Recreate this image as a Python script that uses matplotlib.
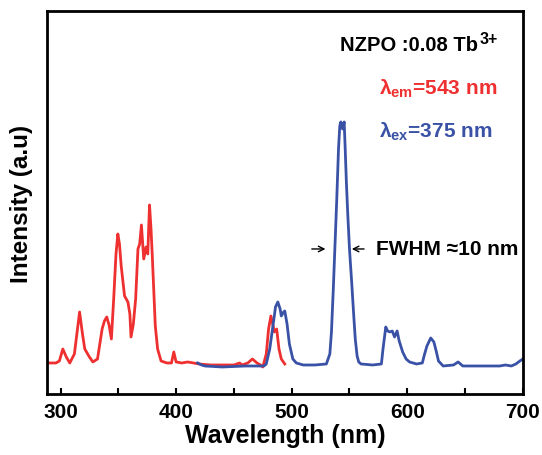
import matplotlib
matplotlib.use("Agg")
import matplotlib.pyplot as plt
from matplotlib.ticker import MultipleLocator

plt.rcParams["font.family"] = ["Liberation Sans", "DejaVu Sans"]
plt.rcParams["font.weight"] = "bold"
plt.rcParams["mathtext.fontset"] = "custom"
plt.rcParams["mathtext.rm"] = "Liberation Sans"
plt.rcParams["mathtext.bf"] = "Liberation Sans:bold"
plt.rcParams["mathtext.it"] = "Liberation Sans:italic"

# excitation spectrum (monitored at 543 nm)
exc_wl = [290.5, 296, 299, 302, 305, 308, 312, 316.5, 319, 321, 325, 328, 332, 334,
          336, 338, 340, 342, 344, 346, 348, 349.6, 351, 352.5, 355.4, 358.3, 360,
          361, 363, 365, 367, 368.5, 370, 372, 374, 375.5, 377, 378.3, 379.4, 381,
          382, 384, 387, 392, 396, 398, 400, 405, 410, 415, 420, 430, 440, 450, 455,
          457, 462, 466, 470, 473, 475, 478, 480, 482, 484, 485, 487, 489, 491, 494]
exc_int = [31, 31, 33, 45, 37, 31, 40, 82, 60, 45, 37, 32, 35, 50,
           65, 73, 77, 69, 55, 95, 140, 160, 150, 128, 98, 92, 80,
           57, 70, 95, 145, 150, 169, 135, 147, 140, 189, 165, 138, 95,
           68, 45, 33, 31, 31, 42, 32, 31, 32, 31, 30, 29, 29, 29, 31,
           29, 31, 35, 31, 29, 27, 40, 65, 78, 68, 62, 65, 45, 35, 30]

# emission spectrum (excited at 375 nm)
em_wl = [418.6, 422, 425, 440, 460, 476, 478, 481, 484, 486, 488, 490, 491, 493, 494,
         496, 498, 501, 504, 510, 520, 530, 533, 534.4, 536, 537.5, 539, 540.5,
         541.6, 542.5, 544, 545.4, 546.3, 547.3, 548.5, 550, 552, 553.7, 555, 556.6,
         558, 560, 570, 577.6, 579, 581.4, 583, 585, 587, 589, 591.2, 593, 596, 599,
         602, 608, 613, 615, 617, 620.3, 623, 625, 627, 631, 640, 644, 648, 660,
         670, 680, 685, 690, 694, 697.4, 700]
em_int = [31, 29, 28, 27, 28, 28, 30, 45, 70, 87, 92, 85, 78, 82, 83,
          70, 50, 35, 31, 29, 29, 30, 40, 62, 105, 150, 195, 245,
          268, 272, 265, 272, 245, 212, 180, 145, 110, 78, 55, 38,
          32, 30, 29, 30, 45, 67, 63, 62, 63, 57, 63, 53, 42, 35,
          32, 30, 31, 40, 48, 56, 52, 43, 33, 28, 29, 32, 28, 28,
          28, 28, 29, 28, 30, 33, 35]

red = "#EE3030"
blue = "#3A52A6"

fig = plt.figure(figsize=(5.42, 4.56), dpi=100)
ax = fig.add_axes([0.0867, 0.1338, 0.878, 0.840])

ax.plot(exc_wl, exc_int, color=red, lw=2, solid_joinstyle="round")
ax.plot(em_wl, em_int, color=blue, lw=2, solid_joinstyle="round")

ax.set_xlim(288.3, 700)
ax.set_ylim(0, 383)
ax.xaxis.set_major_locator(MultipleLocator(100))
ax.xaxis.set_minor_locator(MultipleLocator(50))
ax.tick_params(axis="x", which="both", direction="in", length=4, width=1.5,
               labelsize=15, pad=6)
ax.set_yticks([])
for sp in ax.spines.values():
    sp.set_linewidth(2)

ax.set_xlabel("Wavelength (nm)", fontsize=18, fontweight="bold", labelpad=1)
ax.set_ylabel("Intensity (a.u)", fontsize=17.5, fontweight="bold", labelpad=10)

# sample label, superscript attached to the end of the text
label = ax.text(661, 349, "NZPO :0.08 Tb", fontsize=14.5, fontweight="bold",
                ha="right", va="center")
ax.annotate("3+", xy=(1, 0.42), xycoords=label, xytext=(1, 0),
            textcoords="offset points", fontsize=11.5, fontweight="bold",
            ha="left", va="bottom")

ax.text(678, 306, r"$\mathrm{\lambda}_{\mathbf{em}}$=543 nm", fontsize=15,
        fontweight="bold", color=red, ha="right", va="center")
ax.text(674, 263, r"$\mathrm{\lambda}_{\mathbf{ex}}$=375 nm", fontsize=15,
        fontweight="bold", color=blue, ha="right", va="center")

# FWHM marker
ax.annotate("", xy=(531.6, 145), xytext=(515, 145),
            arrowprops=dict(arrowstyle="->", color="black", lw=1))
ax.annotate("", xy=(549.6, 145), xytext=(565, 145),
            arrowprops=dict(arrowstyle="->", color="black", lw=1))
ax.text(572.7, 145, "FWHM \u224810 nm", fontsize=15, fontweight="bold",
        ha="left", va="center", clip_on=True)

fig.savefig("out.png", dpi=100)
